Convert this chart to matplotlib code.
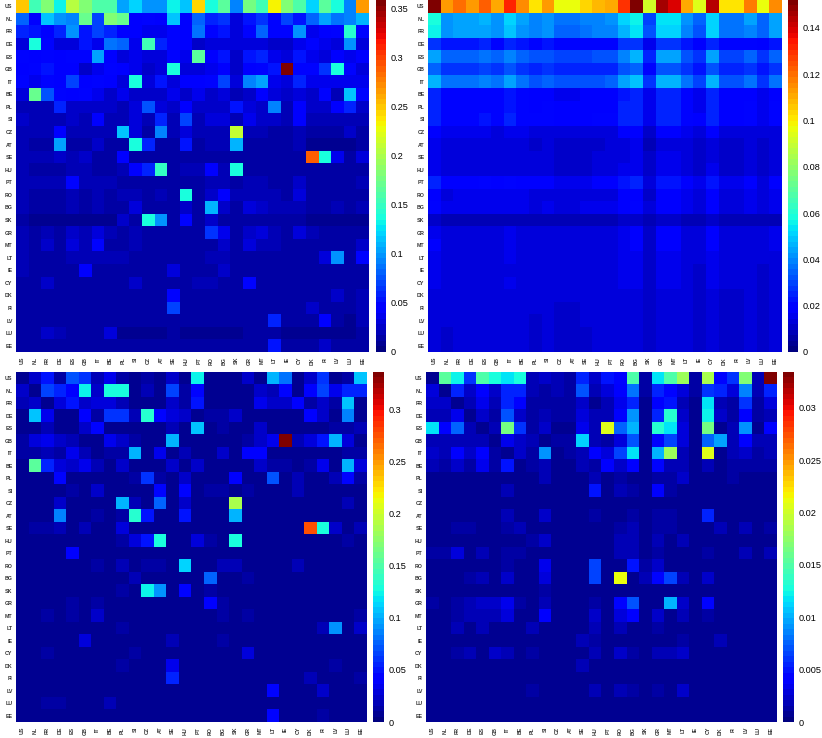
import matplotlib
matplotlib.use("Agg")
import numpy as np
import matplotlib.pyplot as plt

plt.rcParams['font.family'] = ['Liberation Sans', 'DejaVu Sans']

countries = ["US", "NL", "FR", "DE", "ES", "GB", "IT", "BE", "PL", "SI", "CZ", "AT", "SE", "HU",
             "PT", "RO", "BG", "SK", "GR", "MT", "LT", "IE", "CY", "DK", "FI", "LV", "LU", "EE"]

# values, in 1/1000
top_left = [
    [250,155,180,130,205,185,160,160,105,120,100,100,130,115,245,140,165,90,175,155,235,180,160,120,165,135,95,265],
    [80,40,115,100,90,170,70,185,170,40,45,40,115,40,80,60,65,30,55,65,45,70,55,80,105,85,95,110],
    [60,55,40,60,100,55,70,60,40,40,35,35,45,40,85,45,55,30,50,80,50,45,100,35,40,45,145,45],
    [30,135,50,30,30,55,35,85,80,35,155,60,50,40,25,30,30,30,30,30,25,25,35,50,35,30,100,30],
    [50,40,50,40,50,50,105,40,30,35,30,30,45,35,165,40,55,25,55,60,35,30,55,35,30,40,35,40],
    [40,45,55,40,40,25,35,50,40,35,28,30,135,30,30,35,40,25,40,45,55,359,45,50,65,135,45,30],
    [45,35,50,40,70,40,45,40,30,140,30,55,30,40,40,50,70,30,90,105,35,30,60,35,35,35,35,35],
    [30,170,75,45,40,45,35,25,35,25,25,25,35,25,35,25,30,20,28,40,30,28,30,28,50,20,115,45],
    [20,20,20,60,25,25,25,25,20,30,75,30,25,40,25,25,25,55,30,25,90,20,40,25,25,40,60,25],
    [25,20,20,20,25,20,40,20,20,30,20,60,20,70,20,30,30,20,35,25,25,20,40,20,20,20,20,20],
    [20,18,18,40,20,20,20,20,115,30,15,90,20,30,20,20,20,210,20,20,15,15,20,15,15,15,25,15],
    [18,12,12,105,15,15,25,15,15,140,60,15,15,55,15,18,18,110,15,15,15,15,18,10,10,10,10,12],
    [18,22,22,25,18,28,15,15,40,15,15,15,15,15,15,15,15,15,15,15,15,15,15,290,140,35,15,30],
    [18,12,12,15,18,18,15,15,22,40,60,150,15,20,20,40,20,135,15,12,12,12,15,15,15,15,15,12],
    [20,20,20,20,45,18,18,20,15,15,15,15,15,15,15,20,20,12,20,20,15,15,25,15,15,15,15,18],
    [18,15,15,15,18,15,20,12,20,20,15,22,12,140,15,25,40,22,22,20,18,15,30,15,15,15,12,12],
    [20,15,15,15,18,15,20,15,12,32,15,15,12,25,15,110,25,15,30,25,18,18,22,15,15,18,15,18],
    [12,8,8,10,10,10,10,10,25,12,135,100,12,50,12,25,15,12,12,12,12,12,12,10,10,10,10,10],
    [18,15,18,15,28,20,30,18,15,18,12,12,15,15,15,65,35,15,25,32,18,15,30,18,15,15,12,12],
    [20,15,25,15,30,18,45,15,15,20,12,12,15,15,12,15,28,12,30,20,18,12,15,12,12,12,12,25],
    [18,14,16,16,18,18,18,18,22,15,14,14,16,16,14,18,18,14,16,16,16,14,16,14,30,100,14,45],
    [18,14,14,14,16,40,14,12,14,14,12,12,30,14,14,16,24,12,16,12,12,12,14,12,14,14,12,14],
    [16,12,28,12,14,16,16,16,14,24,12,12,12,16,18,22,14,14,45,14,12,12,16,12,12,12,12,12],
    [16,16,12,12,12,12,12,12,12,14,12,12,45,12,12,12,12,12,16,14,14,12,12,12,16,26,12,18],
    [16,16,16,12,12,12,12,12,12,12,12,12,70,12,12,12,12,12,12,12,16,12,12,25,12,12,12,20],
    [16,12,12,12,12,12,12,12,12,12,12,12,12,12,12,12,12,12,12,12,60,12,12,12,40,12,8,20],
    [14,12,24,22,12,12,12,30,10,10,10,10,12,10,10,10,10,10,12,12,12,10,10,10,10,10,10,12],
    [14,12,12,12,12,12,12,12,12,12,12,12,12,12,12,12,12,12,12,12,55,12,12,12,25,12,12,12],
]

top_right = [
    [150,112,120,112,122,110,132,116,102,112,97,97,104,108,110,130,152,92,146,140,110,93,144,100,100,118,95,116],
    [57,42,44,44,47,42,52,43,39,42,36,36,38,40,41,50,56,30,54,54,41,34,52,37,37,43,34,44],
    [55,42,43,43,45,42,49,41,38,41,35,35,36,38,39,47,53,31,51,51,40,33,50,36,36,40,35,43],
    [28,22,22,22,24,21,26,23,20,22,19,19,19,20,20,27,28,16,27,27,22,18,26,19,19,21,17,22],
    [44,34,35,35,37,34,40,34,31,33,29,29,30,31,32,40,46,26,44,44,33,28,43,30,30,34,27,34],
    [35,28,28,28,29,27,32,27,25,27,24,24,24,25,25,31,34,21,33,33,27,23,32,25,25,28,22,27],
    [46,36,37,37,39,36,43,36,33,35,31,31,32,33,34,43,48,27,46,46,36,30,46,32,32,36,28,36],
    [25,19,19,19,20,19,22,19,17,18,16,16,17,17,17,23,25,15,24,24,19,16,24,17,17,18,15,18],
    [26,20,20,20,21,20,23,20,18,19,17,17,18,18,18,24,25,15,25,25,20,16,25,18,18,19,15,19],
    [26,21,21,21,22,20,24,21,19,20,18,18,18,19,19,25,26,16,26,26,20,17,25,18,18,20,16,21],
    [18,15,15,15,15,14,16,15,13,14,13,13,13,14,14,17,18,11,17,17,15,12,17,13,13,14,12,14],
    [15,12,12,12,13,12,14,12,11,12,11,11,11,11,12,14,15,9,14,14,12,10,14,11,11,12,10,12],
    [15,12,12,12,13,12,14,13,12,12,11,11,11,12,12,14,15,10,15,15,12,11,14,11,11,12,10,12],
    [16,12,13,13,13,12,14,13,12,12,11,11,11,12,12,15,15,10,15,15,13,11,15,11,11,12,10,12],
    [24,18,18,18,19,18,21,18,17,18,16,16,16,17,17,22,24,14,23,23,18,15,22,16,16,18,14,18],
    [18,14,15,15,15,15,16,15,13,14,14,14,14,14,14,17,18,11,17,17,15,12,17,13,13,15,12,15],
    [19,15,15,15,16,15,16,15,14,15,14,14,15,15,15,18,20,12,18,18,16,13,18,14,14,16,12,15],
    [10,8,9,9,9,9,9,9,8,8,9,8,9,9,9,10,10,8,10,10,9,8,10,8,8,9,8,9],
    [16,14,14,14,14,14,15,14,13,14,13,13,13,13,14,16,17,11,17,17,14,12,17,13,13,14,12,15],
    [17,14,14,14,14,14,15,14,13,14,13,13,13,13,14,16,17,11,18,17,14,12,17,13,13,14,12,15],
    [16,13,14,14,14,14,15,14,13,13,13,13,13,13,13,16,16,11,16,16,14,12,16,13,13,14,12,14],
    [16,13,13,13,14,14,14,14,13,13,13,13,13,13,13,15,16,11,16,16,14,11,16,12,13,13,11,13],
    [16,13,14,14,14,14,15,14,13,13,13,13,13,13,13,15,15,11,15,15,13,11,16,12,12,13,11,13],
    [14,12,12,12,13,12,13,12,12,12,12,12,12,12,12,14,14,10,14,14,12,11,14,11,11,12,10,12],
    [14,12,12,12,12,12,13,12,12,12,11,11,12,12,12,14,14,10,14,14,12,10,13,11,11,12,10,12],
    [14,12,12,12,12,12,13,12,11,12,11,11,12,12,12,14,14,10,14,14,12,10,13,11,11,12,10,12],
    [14,11,12,12,12,12,13,12,11,12,11,11,11,12,12,13,14,10,14,14,12,10,13,11,11,12,10,12],
    [14,11,12,12,12,12,12,12,11,12,11,11,11,12,12,13,14,10,14,13,12,10,13,11,11,12,10,12],
]

bottom_left = [
    [10,25,50,15,70,62,20,35,12,8,12,10,25,10,125,8,8,8,25,10,105,80,10,22,62,10,12,110],
    [25,8,65,55,40,125,22,130,130,10,20,8,65,15,45,10,10,8,10,22,20,45,10,40,65,35,55,55],
    [20,25,8,30,50,22,30,30,20,10,10,10,22,12,48,10,10,8,8,35,25,25,40,15,25,15,110,8],
    [10,110,35,10,10,42,12,60,60,18,135,45,30,22,10,14,14,22,10,10,10,10,10,40,22,10,85,10],
    [10,10,18,10,8,22,45,10,10,8,8,8,20,8,110,8,12,10,10,25,8,8,8,8,8,12,14,16],
    [14,28,35,22,18,10,10,32,22,14,10,10,100,10,10,10,10,10,14,22,35,336,18,30,50,100,30,10],
    [12,12,20,12,35,18,10,14,12,100,8,35,10,18,8,10,22,8,40,40,8,8,8,8,8,8,14,12],
    [10,155,55,30,22,32,18,10,22,10,10,10,22,10,22,10,10,10,10,22,12,12,10,12,35,8,100,30],
    [8,8,10,45,8,10,10,8,8,14,62,14,8,25,8,8,8,42,8,8,70,8,20,8,10,18,45,12],
    [8,8,8,10,12,10,22,8,8,8,8,45,8,45,8,12,12,8,14,8,8,8,18,8,8,8,8,8],
    [8,8,8,25,8,8,8,8,100,18,8,75,8,22,8,8,8,185,8,8,8,8,8,8,8,8,20,8],
    [8,8,8,85,8,8,15,8,12,135,50,8,8,50,8,8,8,100,8,8,8,8,8,8,8,8,8,8],
    [8,15,12,18,8,20,8,8,30,8,8,8,8,8,8,8,8,8,8,8,8,8,8,278,130,22,8,20],
    [8,8,8,10,8,8,8,8,14,30,50,130,8,8,30,14,8,130,8,8,8,8,8,8,8,8,12,8],
    [8,8,8,8,40,8,8,10,8,8,8,8,8,8,8,8,8,8,8,8,8,8,8,8,8,8,8,8],
    [8,8,8,8,8,8,12,8,16,8,12,14,8,115,8,8,16,16,8,8,8,8,16,8,8,8,8,8],
    [8,8,8,8,8,8,8,8,8,18,8,8,8,10,8,75,8,8,14,8,8,8,8,8,8,8,8,8],
    [8,8,8,10,10,10,8,8,15,10,125,90,8,45,8,12,8,10,8,8,8,8,8,8,8,8,8,8],
    [8,8,8,8,12,8,12,8,8,8,8,8,10,8,8,40,14,8,8,8,8,8,10,10,8,8,8,8],
    [8,8,12,8,14,8,22,8,8,8,8,8,10,8,10,8,12,8,14,8,8,8,8,8,8,8,8,12],
    [8,8,8,8,8,8,8,8,12,8,8,8,8,8,8,8,8,8,8,8,8,8,8,8,18,90,8,25],
    [8,8,8,8,8,30,8,8,8,8,8,8,18,8,8,8,11,8,10,8,8,8,8,8,8,8,8,8],
    [8,8,13,8,8,8,8,8,8,12,8,8,8,8,9,10,8,8,28,8,8,8,8,8,8,8,8,8],
    [8,9,9,9,8,8,8,8,11,8,8,8,35,8,8,8,8,8,8,8,8,8,8,8,10,14,8,10],
    [8,9,9,9,8,8,8,8,8,8,8,8,55,8,8,8,8,8,8,8,9,8,8,16,8,8,8,11],
    [8,8,8,8,8,8,8,8,8,8,8,8,8,8,8,8,8,8,8,8,45,8,8,8,24,8,8,10],
    [8,8,14,12,8,8,8,18,8,8,8,8,8,8,8,8,8,8,8,8,8,8,8,8,8,8,8,8],
    [8,8,8,8,8,8,8,8,8,8,8,8,8,8,8,8,8,8,8,8,45,8,8,10,15,8,8,8],
]

# bottom right is in 1/10000
bottom_right = [
    [10,155,125,60,150,130,115,130,20,22,20,15,55,25,50,45,150,12,115,150,180,12,185,42,60,170,20,334],
    [30,8,55,25,40,22,55,55,20,15,18,12,70,20,28,40,80,12,55,42,30,12,60,55,28,85,18,55],
    [25,22,8,20,32,18,55,38,14,14,12,12,25,10,20,32,55,10,38,50,20,10,115,20,12,60,14,30],
    [18,18,35,8,22,15,70,25,14,20,12,12,30,18,18,40,90,10,55,135,25,10,125,22,15,40,14,18],
    [115,40,75,16,8,18,165,60,12,25,10,10,35,16,205,75,100,10,135,120,30,10,165,8,18,90,10,40],
    [18,18,20,18,20,10,35,22,20,10,12,12,110,18,15,30,70,10,45,65,30,10,75,95,18,40,20,18],
    [25,20,38,22,40,14,8,22,12,90,10,12,18,38,28,65,120,10,100,180,20,10,205,10,18,25,12,18],
    [18,14,25,12,35,12,50,8,12,18,10,10,16,12,38,22,40,10,42,20,16,10,18,10,12,12,12,14],
    [8,8,10,10,8,8,10,10,8,18,8,8,10,20,8,12,10,10,12,12,22,8,10,8,12,8,8,10],
    [8,8,8,8,8,8,18,8,8,8,10,10,8,50,8,18,12,8,40,15,8,8,8,8,8,8,8,8],
    [8,8,8,8,8,8,8,8,8,8,8,8,8,8,8,8,8,8,8,8,8,8,8,8,8,8,8,8],
    [8,8,10,10,8,8,18,8,8,22,8,8,8,15,8,10,12,8,12,12,8,8,55,8,8,8,8,8],
    [10,10,14,12,8,10,12,18,10,8,8,8,10,10,8,12,16,8,12,12,10,8,8,18,10,20,10,14],
    [10,8,8,8,10,10,10,10,14,25,8,8,8,8,8,16,16,8,20,8,18,8,8,8,8,8,8,8],
    [12,12,30,10,20,10,15,15,8,8,8,8,8,8,8,18,18,8,14,10,10,8,12,8,8,18,8,20],
    [8,8,8,10,8,8,14,8,10,35,8,8,8,65,8,8,50,15,22,8,8,8,8,8,8,8,8,8],
    [8,8,8,12,16,8,25,8,10,28,8,8,8,65,8,209,8,16,45,65,18,8,22,8,8,8,8,8],
    [8,8,8,8,8,8,8,8,8,12,8,8,8,8,8,8,8,8,8,8,8,8,8,8,8,8,8,8],
    [12,10,14,20,22,22,32,12,10,18,8,8,8,15,10,45,70,8,8,100,22,8,45,10,8,8,10,10],
    [10,10,14,18,18,18,28,10,10,38,8,8,8,22,10,30,40,8,25,8,18,8,14,8,8,8,8,8],
    [8,8,16,8,18,8,8,8,16,8,8,8,8,16,10,16,10,8,12,8,8,8,8,8,10,8,8,8],
    [8,8,8,8,8,8,8,8,8,10,8,8,16,12,8,10,8,8,8,8,12,8,8,16,8,8,10,8],
    [10,8,12,20,8,25,18,10,12,8,8,8,8,18,8,25,14,8,18,18,22,8,8,8,8,8,8,8],
    [8,8,8,8,8,8,8,8,8,8,8,8,16,8,8,8,10,8,8,8,8,8,8,8,10,8,8,8],
    [8,8,8,10,8,8,8,8,8,8,8,8,10,8,8,8,8,8,8,8,8,8,8,10,8,8,8,8],
    [8,8,8,8,8,8,8,8,14,8,8,8,8,18,8,16,12,8,14,8,25,8,8,8,10,8,8,8],
    [7,7,7,7,7,7,7,7,7,7,7,7,7,7,7,7,7,7,7,7,7,7,7,7,7,7,7,7],
    [7,7,7,7,7,7,7,7,7,7,7,7,7,7,7,7,7,7,7,7,7,7,7,7,7,7,7,7],
]

W, H = 822, 738
fig = plt.figure(figsize=(W / 100, H / 100), dpi=100)


def pixel_axes(x0, x1, y0, y1):
    return fig.add_axes([x0 / W, 1 - y1 / H, (x1 - x0) / W, (y1 - y0) / H])


def panel(data, scale, vmax, ticks, ticklabels, box, cbox):
    ax = pixel_axes(*box)
    im = ax.imshow(np.array(data) * scale, cmap=plt.get_cmap('jet', 64), vmin=0, vmax=vmax,
                   aspect='auto', interpolation='nearest')
    ax.set_xticks(range(28))
    ax.set_yticks(range(28))
    ax.set_xticklabels(countries, rotation=90, fontsize=3.8, fontweight='bold', color='#333333')
    ax.set_yticklabels(countries, fontsize=3.8, fontweight='bold', color='#333333')
    ax.tick_params(length=0, pad=2.5)
    ax.tick_params(axis='x', pad=3.5)
    for s in ax.spines.values():
        s.set_visible(False)
    cax = pixel_axes(*cbox)
    cb = fig.colorbar(im, cax=cax)
    cb.set_ticks(ticks)
    cb.set_ticklabels(ticklabels)
    cb.ax.tick_params(length=0, labelsize=6.6, pad=3.5)
    cb.outline.set_visible(False)


panel(top_left, 1e-3, 0.359, [0, .05, .1, .15, .2, .25, .3, .35],
      ["0", "0.05", "0.1", "0.15", "0.2", "0.25", "0.3", "0.35"], (16, 369, 0, 352), (376, 386, 0, 352))
panel(top_right, 1e-3, 0.152, [0, .02, .04, .06, .08, .1, .12, .14],
      ["0", "0.02", "0.04", "0.06", "0.08", "0.1", "0.12", "0.14"], (428, 781, 0, 352), (788, 798, 0, 352))
panel(bottom_left, 1e-3, 0.3365, [0, .05, .1, .15, .2, .25, .3],
      ["0", "0.05", "0.1", "0.15", "0.2", "0.25", "0.3"], (16, 367, 372, 722), (373, 384, 372, 722))
panel(bottom_right, 1e-4, 0.0334, [0, .005, .01, .015, .02, .025, .03],
      ["0", "0.005", "0.01", "0.015", "0.02", "0.025", "0.03"], (426, 777, 372, 722), (783, 794, 372, 722))

fig.savefig("out.png", dpi=100)
